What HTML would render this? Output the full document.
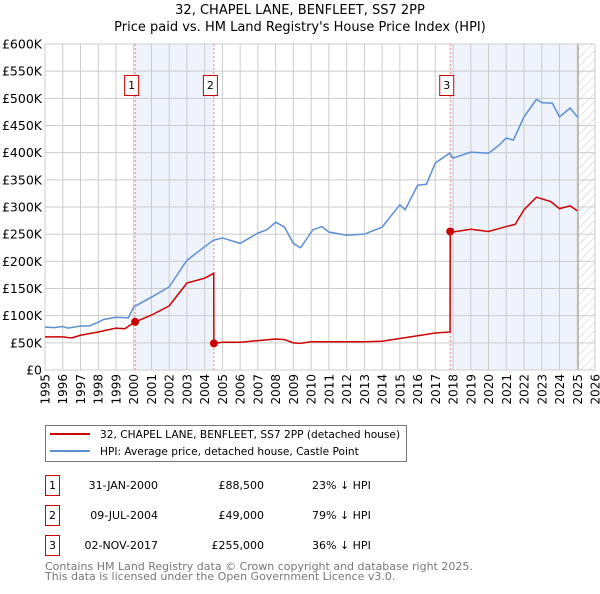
<!DOCTYPE html>
<html><head><meta charset="utf-8"><style>
body{margin:0;background:#fff;font-family:"DejaVu Sans","Liberation Sans",sans-serif;}
svg text{font-family:"DejaVu Sans","Liberation Sans",sans-serif;}
</style></head><body>
<svg id="c" width="600" height="590" xmlns="http://www.w3.org/2000/svg">
<defs><pattern id="hatch" width="6" height="6" patternUnits="userSpaceOnUse" patternTransform="rotate(45)"><line x1="0" y1="0" x2="0" y2="6" stroke="#bbb" stroke-width="0.8"/></pattern></defs>
<text x="300" y="14" text-anchor="middle" font-size="13">32, CHAPEL LANE, BENFLEET, SS7 2PP</text>
<text x="300" y="31" text-anchor="middle" font-size="13">Price paid vs. HM Land Registry's House Price Index (HPI)</text>
<g id="plot"></g>
<g>
<rect x="45.5" y="425.5" width="361" height="36" fill="#fff" stroke="#777"/>
<line x1="50" y1="434" x2="90" y2="434" stroke="#cc0000" stroke-width="2"/>
<text x="100" y="438" font-size="10.6">32, CHAPEL LANE, BENFLEET, SS7 2PP (detached house)</text>
<line x1="50" y1="451" x2="90" y2="451" stroke="#5b8fd4" stroke-width="2"/>
<text x="100" y="455" font-size="10.6">HPI: Average price, detached house, Castle Point</text>
</g>
<g font-size="11">
<rect x="45.5" y="475.5" width="14" height="20" fill="#fff" stroke="#cc0000"/><text x="52.5" y="489" text-anchor="middle">1</text>
<text x="158" y="489" text-anchor="end">31-JAN-2000</text><text x="264" y="489" text-anchor="end">£88,500</text><text x="312" y="489">23% ↓ HPI</text>
<rect x="45.5" y="505.5" width="14" height="20" fill="#fff" stroke="#cc0000"/><text x="52.5" y="519" text-anchor="middle">2</text>
<text x="158" y="519" text-anchor="end">09-JUL-2004</text><text x="264" y="519" text-anchor="end">£49,000</text><text x="312" y="519">79% ↓ HPI</text>
<rect x="45.5" y="535.5" width="14" height="20" fill="#fff" stroke="#cc0000"/><text x="52.5" y="549" text-anchor="middle">3</text>
<text x="158" y="549" text-anchor="end">02-NOV-2017</text><text x="264" y="549" text-anchor="end">£255,000</text><text x="312" y="549">36% ↓ HPI</text>
</g>
<text x="45" y="570" font-size="11" fill="#777">Contains HM Land Registry data © Crown copyright and database right 2025.</text>
<text x="45" y="580" font-size="11" fill="#777">This data is licensed under the Open Government Licence v3.0.</text>
</svg>
<script>
const yTicks=[0,50,100,150,200,250,300,350,400,450,500,550,600];
const yTickLabels=["£0","£50K","£100K","£150K","£200K","£250K","£300K","£350K","£400K","£450K","£500K","£550K","£600K"];
const xYears=[1995,1996,1997,1998,1999,2000,2001,2002,2003,2004,2005,2006,2007,2008,2009,2010,2011,2012,2013,2014,2015,2016,2017,2018,2019,2020,2021,2022,2023,2024,2025,2026];
const hpiYears=[1995,1995.5,1996,1996.3,1997,1997.5,1998,1998.3,1999,1999.7,2000,2001,2002,2003,2004,2004.5,2005,2006,2007,2007.5,2008,2008.5,2009,2009.4,2010.1,2010.6,2011,2012,2013,2014,2015,2015.3,2016,2016.5,2017,2017.8,2018,2019,2020,2020.6,2021,2021.4,2022,2022.7,2023,2023.6,2024,2024.6,2025];
const hpiValues=[79,78,80,77,81,81,88,93,97,96,116,134,153,202,227,239,243,233,252,258,272,263,233,225,258,264,254,248,250,263,304,295,340,342,381,399,390,401,399,414,427,423,466,498,492,491,466,482,466];
const priceYears=[1995,1996,1996.5,1997,1998,1999,1999.5,2000.08,2001,2002,2003,2004,2004.51,2004.52,2005,2006,2007,2008,2008.5,2009,2009.4,2010,2011,2013,2014,2015,2016,2017,2017.83,2017.84,2018,2019,2020,2021,2021.5,2022,2022.7,2023.5,2024,2024.6,2025];
const priceValues=[61,61,59,64,70,77,76,88.5,101,118,160,169,178,49,51,51,54,57,56,50,49,52,52,52,53,58,63,68,70,255,254,259,255,264,268,295,318,310,297,302,293];
const saleYears=[2000.08,2004.52,2017.84];
const saleValues=[88.5,49,255];
const saleLabels=["1","2","3"];
const X0=45,X1=595,Y0=370,Y1=44;
const xs=y=>X0+(y-1995)*(X1-X0)/31;
const ys=v=>Y0-v*(Y0-Y1)/600;
const NS="http://www.w3.org/2000/svg";
const g=document.getElementById('plot');
function mk(t,a){const e=document.createElementNS(NS,t);for(const k in a)e.setAttribute(k,a[k]);g.appendChild(e);return e;}
let e;
e=mk('rect',{x:xs(saleYears[0]),y:Y1,width:xs(saleYears[1])-xs(saleYears[0]),height:Y0-Y1,fill:'#eef3fc'});


e=mk('rect',{x:xs(saleYears[2]),y:Y1,width:xs(2025)-xs(saleYears[2]),height:Y0-Y1,fill:'#eef3fc'});


e=mk('rect',{x:xs(2025.05),y:Y1,width:X1-xs(2025.05),height:Y0-Y1,fill:'url(#hatch)'});


xYears.forEach(y=>{e=mk('line',{x1:xs(y),x2:xs(y),y1:Y1,y2:Y0,stroke:'#ccc','stroke-width':1});


e=mk('text',{x:0,y:0,transform:`translate(${xs(y)+4.5},${Y0+4}) rotate(-90)`,'text-anchor':'end','font-size':12});e.textContent=y;

});
yTicks.forEach((v,i)=>{e=mk('line',{x1:X0,x2:X1,y1:ys(v),y2:ys(v),stroke:'#ccc','stroke-width':1});


e=mk('text',{x:X0-3,y:ys(v)+4.5,'text-anchor':'end','font-size':12.5});e.textContent=yTickLabels[i];

});
e=mk('line',{x1:xs(2025.05),x2:xs(2025.05),y1:Y1,y2:Y0,stroke:'#999','stroke-width':1});


saleYears.forEach((y,i)=>{e=mk('line',{x1:xs(y),x2:xs(y),y1:Y1,y2:Y0,stroke:'#e88','stroke-width':1,'stroke-dasharray':'2,2'});

});
e=mk('polyline',{points:hpiYears.map((y,i)=>xs(y)+','+ys(hpiValues[i])).join(' '),fill:'none',stroke:'#5b8fd4','stroke-width':1.5});


e=mk('polyline',{points:priceYears.map((y,i)=>xs(y)+','+ys(priceValues[i])).join(' '),fill:'none',stroke:'#cc0000','stroke-width':1.5});


saleYears.forEach((y,i)=>{e=mk('circle',{cx:xs(y),cy:ys(saleValues[i]),r:4,fill:'#cc0000'});


e=mk('rect',{x:xs(y)-10.5,y:75.5,width:14,height:20,fill:'#fff',stroke:'#cc0000'});


e=mk('text',{x:xs(y)-3.5,y:89,'text-anchor':'middle','font-size':11});e.textContent=saleLabels[i];

});
</script>
</body></html>
